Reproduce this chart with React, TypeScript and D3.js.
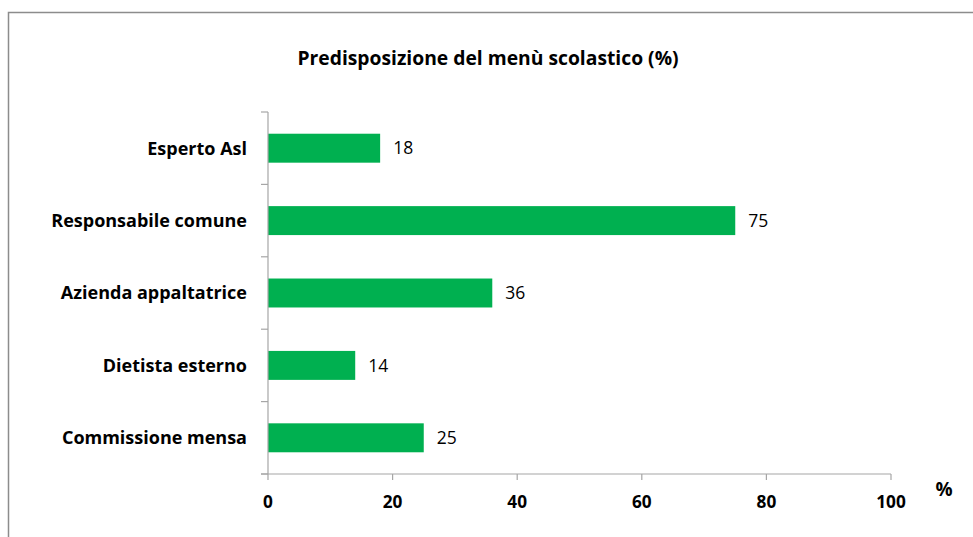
import React from 'react';
import * as d3 from 'd3';

const categories = [
  'Esperto Asl',
  'Responsabile comune',
  'Azienda appaltatrice',
  'Dietista esterno',
  'Commissione mensa',
];
const values = [18, 75, 36, 14, 25];
const xTicks = [0, 20, 40, 60, 80, 100];
const title = 'Predisposizione del menù scolastico (%)';
const unit = '%';

const W = 973;
const H = 537;
const FONT = '"Open Sans", Lato, sans-serif';

const App = () => {
  // scales
  const x = d3.scaleLinear().domain([0, 100]).range([268, 891]);
  const y = d3.scaleBand<string>()
    .domain(categories)
    .range([112, 474])
    .paddingInner(0.6)
    .paddingOuter(0.3);

  const top = 112;
  const bottom = 474;
  const axisColor = '#a6a6a6';

  const bandEdges = d3.range(categories.length + 1).map(i => top + i * (bottom - top) / categories.length);

  return (
    <div style={{ position: 'absolute', left: 0, top: 0 }}>
      <svg width={W} height={H} style={{ display: 'block', fontFamily: FONT }}>
        <rect x={0} y={0} width={W} height={H} fill="#fff" />
        {/* chart frame */}
        <path d={`M8.5,${H + 2} V12.5 H${W + 2}`} fill="none" stroke="#8c8c8c" strokeWidth={1.5} />

        <text x={488} y={58} dy="0.35em" textAnchor="middle" fontSize={19.3} fontWeight="bold" fill="#000">
          {title}
        </text>

        {/* bars */}
        {categories.map((c, i) => (
          <g key={c}>
            <rect
              x={x(0)}
              y={y(c)}
              width={x(values[i]) - x(0)}
              height={y.bandwidth()}
              fill="#00b050"
            />
            <text
              x={x(values[i]) + 13}
              y={(y(c) ?? 0) + y.bandwidth() / 2}
              dy="0.35em"
              fontSize={17.5}
              fill="#000"
            >
              {values[i]}
            </text>
            <text
              x={247}
              y={(y(c) ?? 0) + y.bandwidth() / 2}
              dy="0.35em"
              textAnchor="end"
              fontSize={18}
              fontWeight="bold"
              fill="#000"
            >
              {c}
            </text>
          </g>
        ))}

        {/* y axis */}
        <line x1={x(0)} x2={x(0)} y1={top} y2={bottom} stroke={axisColor} strokeWidth={1.2} />
        {bandEdges.map(v => (
          <line key={v} x1={x(0) - 7} x2={x(0)} y1={v} y2={v} stroke={axisColor} strokeWidth={1.2} />
        ))}

        {/* x axis */}
        <line x1={x(0) - 7} x2={x(100)} y1={bottom} y2={bottom} stroke={axisColor} strokeWidth={1.2} />
        {xTicks.map(t => (
          <g key={t}>
            <line x1={x(t)} x2={x(t)} y1={bottom} y2={bottom + 6} stroke={axisColor} strokeWidth={1.2} />
            <text x={x(t)} y={502} dy="0.35em" textAnchor="middle" fontSize={17.2} fontWeight="bold" fill="#000">
              {t}
            </text>
          </g>
        ))}
        <text x={944} y={489} dy="0.35em" textAnchor="middle" fontSize={19} fontWeight="bold" fill="#000">
          {unit}
        </text>
      </svg>
    </div>
  );
};

export default App;
